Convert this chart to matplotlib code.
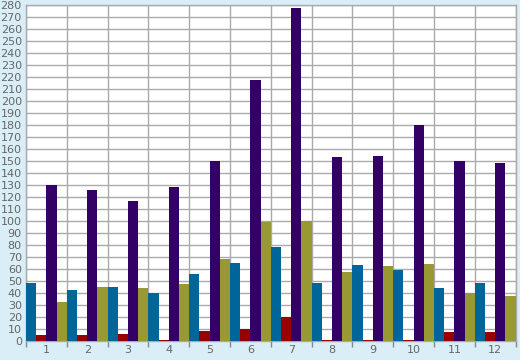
import matplotlib
matplotlib.use("Agg")
import matplotlib.pyplot as plt
import numpy as np

categories = ["1", "2", "3", "4", "5", "6", "7", "8", "9", "10", "11", "12"]
blue_vals = [48, 42, 45, 40, 56, 65, 78, 48, 63, 59, 44, 48]
red_vals = [5, 5, 6, 1, 8, 10, 20, 1, 1, 1, 7, 7]
purple_vals = [130, 126, 117, 128, 150, 218, 278, 153, 154, 180, 150, 148]
olive_vals = [32, 45, 44, 47, 68, 99, 100, 57, 62, 64, 40, 37]

series = [blue_vals, red_vals, purple_vals, olive_vals]
colors = ["#006699", "#990000", "#330066", "#999933"]

fig = plt.figure(figsize=(5.2, 3.6), dpi=100, facecolor="#d9eef6")
ax = fig.add_axes([26 / 520, 19.3 / 360, 489.7 / 520, 335.4 / 360])
ax.set_facecolor("white")

x = np.arange(1, len(categories) + 1)
w = 0.25
for k, (vals, c) in enumerate(zip(series, colors)):
    ax.bar(x - 0.375 + k * w, vals, width=w, color=c, linewidth=0, zorder=3)

ax.set_xlim(0.5, 12.5)
ax.set_ylim(0, 280)
ax.set_yticks(np.arange(0, 281, 10))
ax.set_xticks(x)
ax.set_xticklabels(categories)
ax.set_xticks(np.arange(0.5, 12.6, 1), minor=True)

ax.grid(True, which="minor", axis="x", color="#aaaaaa", linewidth=1, zorder=1)
ax.grid(True, which="major", axis="y", color="#aaaaaa", linewidth=1, zorder=1)

ax.tick_params(axis="x", which="major", length=0, pad=3, labelsize=8, labelcolor="#666666")
ax.tick_params(axis="x", which="minor", length=4, color="#888888", width=1)
ax.tick_params(axis="y", length=0, pad=3, labelsize=8, labelcolor="#666666")

for s in ax.spines.values():
    s.set_color("#aaaaaa")
    s.set_linewidth(1)

fig.savefig("out.png", dpi=100, facecolor=fig.get_facecolor())
